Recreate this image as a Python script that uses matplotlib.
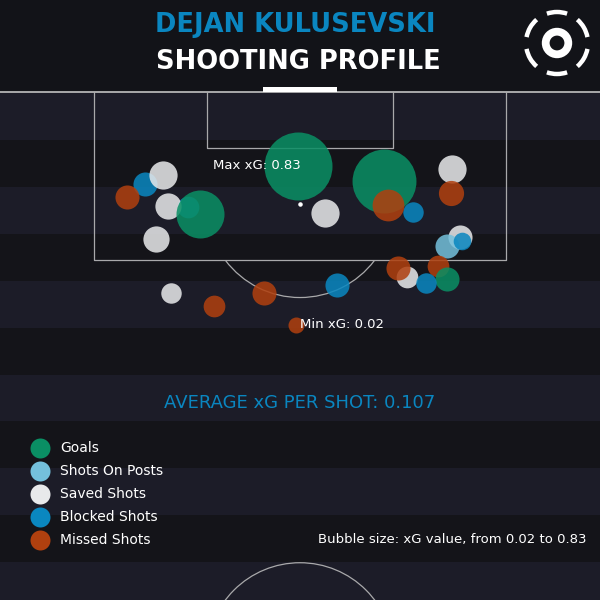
import matplotlib
matplotlib.use("Agg")
import matplotlib.pyplot as plt
from matplotlib.patches import Rectangle, Arc, Circle

# shot data (x: metres from pitch centre line, y: metres from goal line)
shot_type = ["B", "S", "B", "S", "S", "S", "G", "S", "S", "P", "B", "B", "G", "M", "S",
             "M", "M", "B", "M", "S", "G", "M", "M", "G", "B", "M", "M"]
shot_x = [-15.2, -13.4, -11.0, -12.9, -14.1, 2.5, -9.8, 14.9, 15.7, 14.4, 15.9, 11.1, 8.2, 8.6, 10.5,
          -17.0, 14.8, 3.6, -3.5, -12.6, -0.2, 9.6, 13.5, 14.4, 12.4, -8.4, -0.4]
shot_y = [9.0, 8.1, 11.3, 11.2, 14.4, 11.9, 12.0, 7.5, 14.2, 15.1, 14.6, 11.8, 8.7, 11.1, 18.1,
          10.3, 9.9, 18.9, 19.7, 19.7, 7.25, 17.3, 17.1, 18.3, 18.7, 21.0, 22.8]
shot_xg = [0.08, 0.12, 0.06, 0.10, 0.10, 0.12, 0.40, 0.12, 0.08, 0.08, 0.03, 0.05, 0.73, 0.16, 0.06,
           0.08, 0.09, 0.08, 0.08, 0.05, 0.83, 0.08, 0.06, 0.08, 0.05, 0.06, 0.02]

type_names = ["G", "P", "S", "B", "M"]
type_labels = ["Goals", "Shots On Posts", "Saved Shots", "Blocked Shots", "Missed Shots"]
type_colors = ["#0a8f64", "#74c0dc", "#e8e9eb", "#0a87c0", "#b0400f"]

player = "DEJAN KULUSEVSKI"
avg_xg = 0.107

# pitch geometry (metres)
box_w, box_d = 40.32, 16.5
six_w, six_d = 18.32, 5.5
goal_w = 7.32
spot_d = 11.0
circle_r = 9.15
half_len = 55.3

PPM = 10.2  # pixels per metre
BG_HEAD = "#121318"
BG_DARK = "#141419"
BG_LIGHT = "#1c1c28"
LINE = "#a9a9ab"


def bubble_size(xg):
    lo, hi = min(shot_xg), max(shot_xg)
    r_px = (8 ** 2 + (34 ** 2 - 8 ** 2) * (xg - lo) / (hi - lo)) ** 0.5
    return (2 * r_px * 0.72) ** 2


def main():
    plt.rcParams["font.family"] = ["DejaVu Sans"]
    fig = plt.figure(figsize=(6, 6), dpi=100)
    fig.patch.set_facecolor(BG_HEAD)

    ax = fig.add_axes([0, 0, 1, 1])
    ax.set_xlim(-300 / PPM, 300 / PPM)
    ax.set_ylim(508 / PPM, -92 / PPM)
    ax.axis("off")
    ax.set_facecolor(BG_HEAD)

    # stripes
    stripe = 4.6
    for i in range(12):
        ax.axhspan(0.1 + i * stripe, 0.1 + (i + 1) * stripe,
                   color=BG_LIGHT if i % 2 == 0 else BG_DARK, lw=0, zorder=0)
    ax.axhspan(0, 0.1, color=BG_LIGHT, lw=0, zorder=0)
    ax.axhspan(-92 / PPM, 0, color=BG_HEAD, lw=0, zorder=0)

    # pitch markings
    ax.axhline(0, color=LINE, lw=1.4, zorder=1)
    ax.plot([-box_w / 2, -box_w / 2, box_w / 2, box_w / 2], [0, box_d, box_d, 0], color=LINE, lw=0.9, zorder=1)
    ax.plot([-six_w / 2, -six_w / 2, six_w / 2, six_w / 2], [0, six_d, six_d, 0], color=LINE, lw=0.9, zorder=1)
    ax.add_patch(Arc((0, spot_d), 2 * circle_r, 2 * circle_r, theta1=37, theta2=143,
                     color=LINE, lw=0.9, zorder=1))
    ax.add_patch(Circle((0, half_len), circle_r, fill=False, ec=LINE, lw=0.9, zorder=1))
    ax.add_patch(Rectangle((-goal_w / 2, -0.45), goal_w, 0.45, color="white", lw=0, zorder=2))

    # shots
    for t, x, y, xg in zip(shot_type, shot_x, shot_y, shot_xg):
        c = type_colors[type_names.index(t)]
        ax.scatter(x, y, s=bubble_size(xg), color=c, alpha=0.86, lw=0, zorder=3)
    ax.scatter(0, spot_d, s=5, color="white", zorder=4)

    # min / max labels
    i_max = shot_xg.index(max(shot_xg))
    i_min = shot_xg.index(min(shot_xg))
    ax.annotate(f"Max xG: {shot_xg[i_max]:.2f}", (shot_x[i_max], shot_y[i_max]),
                xytext=(2, 0), textcoords="offset points", ha="right", va="center",
                color="white", fontsize=9.5, zorder=5)
    ax.annotate(f"Min xG: {shot_xg[i_min]:.2f}", (shot_x[i_min], shot_y[i_min]),
                xytext=(3, 0), textcoords="offset points", ha="left", va="center",
                color="white", fontsize=9.5, zorder=5)

    # overlay in pixel coordinates for titles, legend, logo
    ov = fig.add_axes([0, 0, 1, 1])
    ov.set_xlim(0, 600)
    ov.set_ylim(600, 0)
    ov.axis("off")
    ov.patch.set_alpha(0)

    ov.text(295, 25, player, ha="center", va="center", color="#0a86c0", fontsize=18.5, fontweight="bold")
    ov.text(298, 62, "SHOOTING PROFILE", ha="center", va="center", color="white", fontsize=18.5,
            fontweight="semibold")
    ov.text(300, 403, f"AVERAGE xG PER SHOT: {avg_xg:.3f}", ha="center", va="center",
            color="#0a86c0", fontsize=13)

    for k, (lbl, c) in enumerate(zip(type_labels, type_colors)):
        yy = 448 + 23 * k
        ov.scatter(40, yy, s=(20 * 0.72) ** 2, color=c, lw=0)
        ov.text(60, yy, lbl, ha="left", va="center", color="white", fontsize=10)
    ov.text(586, 540, f"Bubble size: xG value, from {min(shot_xg):.2f} to {max(shot_xg):.2f}",
            ha="right", va="center", color="white", fontsize=9.5)

    # logo
    cx, cy = 557, 43
    ov.add_patch(Circle((cx, cy), 11.3, fill=False, ec="white", lw=5.6))
    for a in [90, 30, -30, -90, -150, 150]:
        ov.add_patch(Arc((cx, cy), 62, 62, theta1=-a - 19, theta2=-a + 19, color="white", lw=3.2))

    fig.savefig("out.png", dpi=100, facecolor=fig.get_facecolor())


if __name__ == "__main__":
    main()
